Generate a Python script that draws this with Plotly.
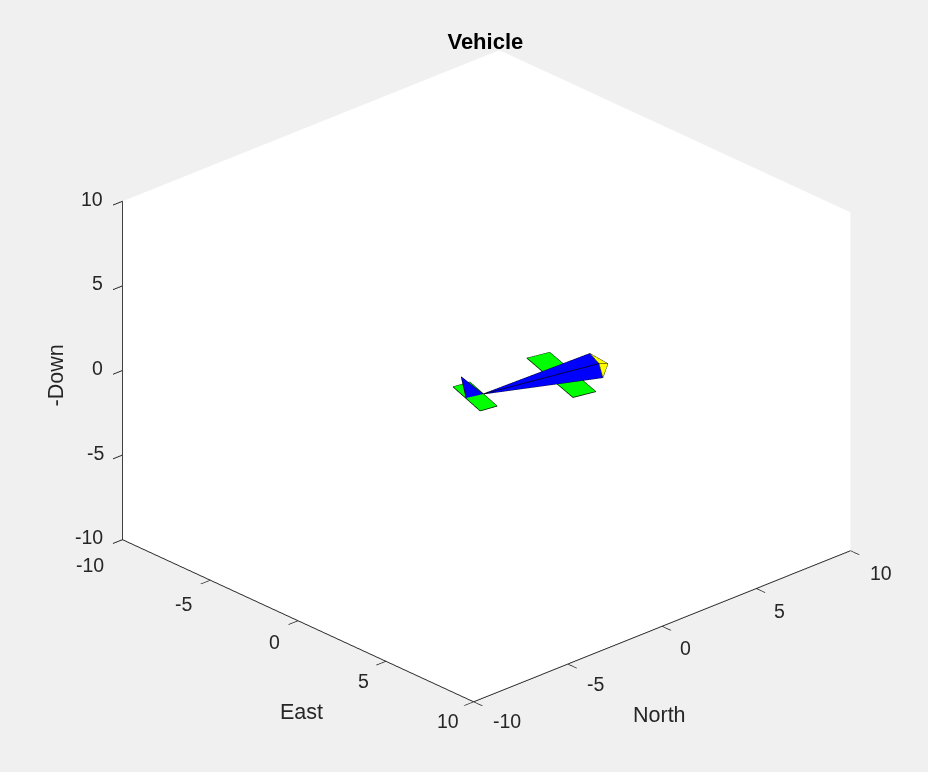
import plotly.graph_objects as go

title = "Vehicle"
ticks = [-10, -5, 0, 5, 10]

# vertices as (East, North, Up)
wing_e = [-0.555, -0.336, 3.48, 3.26]
wing_n = [2.66, 3.67, 2.56, 1.55]
wing_u = [-0.4, -0.4, -0.4, -0.4]

tailplane_e = [-0.17, -0.04, 2.27, 2.14]
tailplane_n = [-1.62, -0.84, -1.55, -2.33]
tailplane_u = [0, 0, 0, 0]

fin_e = [0.73, 0.91, 1.10]
fin_n = [-2.02, -1.93, -1.21]
fin_u = [1.2, 0, 0]

# front square A B C D, then tail point
fus_e = [1.70, 2.60, 2.74, 1.84, 1.10]
fus_n = [3.90, 3.54, 3.62, 3.99, -1.21]
fus_u = [0.4, 0.4, -0.4, -0.4, 0]

# front square A B C D, then nose tip
nose_e = [1.70, 2.60, 2.74, 1.84, 2.40]
nose_n = [3.90, 3.54, 3.62, 3.99, 4.20]
nose_u = [0.4, 0.4, -0.4, -0.4, 0]

BLUE, GREEN, YELLOW = "#0000ff", "#00ff00", "#ffff00"
FLAT = dict(ambient=1, diffuse=0, specular=0, roughness=1, fresnel=0)
TXT = "#262626"
FONT = "Liberation Sans"

# pixel offsets of the tick labels from their ticks (right, up)
EAST_SHIFT = [(-32, -25), (-27, -24), (-24, -21), (-22, -20), (-26, -19)]
NORTH_SHIFT = [(33, -19), (28, -20), (23, -22), (23, -23), (30, -22)]
UP_SHIFT = [(-33, 3), (-27, 2), (-25, 2.5), (-25, 3), (-30, 2)]


def patch(e, n, u, i, j, k, color):
    return go.Mesh3d(x=e, y=n, z=u, i=i, j=j, k=k, color=color, flatshading=True,
                     lighting=FLAT, hoverinfo="skip", showscale=False)


def edges(e, n, u, pairs):
    xs, ys, zs = [], [], []
    for a, b in pairs:
        xs += [e[a], e[b], None]
        ys += [n[a], n[b], None]
        zs += [u[a], u[b], None]
    return go.Scatter3d(x=xs, y=ys, z=zs, mode="lines", line=dict(color="black", width=1.5),
                        hoverinfo="skip", showlegend=False)


RECT = [(0, 1), (1, 2), (2, 3), (3, 0)]
PYR = [(0, 1), (1, 2), (2, 3), (3, 0), (0, 4), (1, 4), (2, 4), (3, 4)]

fig = go.Figure([
    patch(wing_e, wing_n, wing_u, [0, 0], [1, 2], [2, 3], GREEN),
    patch(tailplane_e, tailplane_n, tailplane_u, [0, 0], [1, 2], [2, 3], GREEN),
    patch(fin_e, fin_n, fin_u, [0], [1], [2], BLUE),
    patch(fus_e, fus_n, fus_u, [0, 1, 2, 3], [1, 2, 3, 0], [4, 4, 4, 4], BLUE),
    patch(nose_e, nose_n, nose_u, [0, 1, 2, 3], [1, 2, 3, 0], [4, 4, 4, 4], YELLOW),
    edges(wing_e, wing_n, wing_u, RECT),
    edges(tailplane_e, tailplane_n, tailplane_u, RECT),
    edges(fin_e, fin_n, fin_u, [(0, 1), (1, 2), (2, 0)]),
    edges(fus_e, fus_n, fus_u, PYR),
    edges(nose_e, nose_n, nose_u, PYR),
])


def axis():
    return dict(
        title=dict(text=""),
        range=[-10, 10], autorange=False, tickvals=ticks, showticklabels=False,
        showgrid=False, zeroline=False, showline=True, linecolor=TXT, linewidth=2,
        ticks="outside", ticklen=13, tickcolor=TXT, tickwidth=2,
        showbackground=True, backgroundcolor="white", showspikes=False,
    )


def note(x, y, z, text, dx, dy, size=19.5, angle=0):
    return dict(x=x, y=y, z=z, text=text, showarrow=False, xshift=dx, yshift=dy, textangle=angle,
                font=dict(family=FONT, size=size, color=TXT))


notes = []
for n, t in enumerate(ticks):
    notes.append(note(t, -10, -10, str(t), *EAST_SHIFT[n]))
    notes.append(note(10, t, -10, str(t), *NORTH_SHIFT[n]))
    notes.append(note(-10, -10, t, str(t), *UP_SHIFT[n]))
notes.append(note(0, -10, -10, "East", 3, -91, size=21.5))
notes.append(note(10, 0, -10, "North", -3, -89, size=21.5))
notes.append(note(-10, -10, 0, "-Down", -67, -4.5, size=21.5, angle=-90))

fig.update_layout(
    width=928, height=772, margin=dict(l=0, r=0, t=0, b=0),
    paper_bgcolor="#f0f0f0", showlegend=False,
    title=dict(text="<b>" + title + "</b>", x=0.523, xanchor="center", y=0.947, yanchor="middle",
               font=dict(family=FONT, size=22, color="black")),
    scene=dict(
        domain=dict(x=[0.0485, 1], y=[0.026, 1]),
        xaxis=axis(), yaxis=axis(), zaxis=axis(),
        aspectmode="manual", aspectratio=dict(x=1.37, y=1.37, z=0.997),
        annotations=notes,
        camera=dict(projection=dict(type="orthographic"),
                    eye=dict(x=2.64, y=-2.46, z=1.72), center=dict(x=0, y=0, z=0),
                    up=dict(x=0, y=0, z=1)),
    ),
)
fig.write_html("out.html", config=dict(displayModeBar=False),
               post_script="document.body.style.margin='0';document.body.style.background='#f0f0f0';window.dispatchEvent(new Event('resize'));")
